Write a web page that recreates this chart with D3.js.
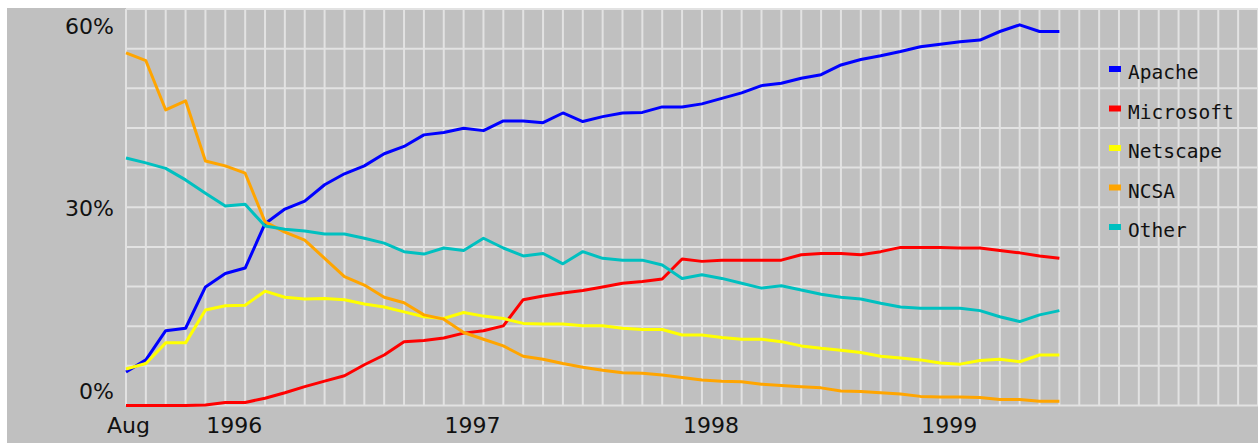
<!DOCTYPE html>
<html><head><meta charset="utf-8">
<script src="https://cdn.jsdelivr.net/npm/d3@7"></script>
<style>html,body{margin:0;padding:0;background:#fff;overflow:hidden}</style>
</head><body><svg id="c" width="1258" height="443"></svg>
<script>
const months = ["1995-08","1995-09","1995-10","1995-11","1995-12",
"1996-01","1996-02","1996-03","1996-04","1996-05","1996-06","1996-07","1996-08","1996-09","1996-10","1996-11","1996-12",
"1997-01","1997-02","1997-03","1997-04","1997-05","1997-06","1997-07","1997-08","1997-09","1997-10","1997-11","1997-12",
"1998-01","1998-02","1998-03","1998-04","1998-05","1998-06","1998-07","1998-08","1998-09","1998-10","1998-11","1998-12",
"1999-01","1999-02","1999-03","1999-04","1999-05","1999-06","1999-07"];
const apache    = [5.5,7.5,12.3,12.7,19.5,21.7,22.6,29.9,32.3,33.6,36.3,38.1,39.4,41.4,42.6,44.5,44.9,45.6,45.2,46.8,46.8,46.5,48.1,46.7,47.5,48.1,48.2,49.1,49.1,49.6,50.5,51.4,52.6,53.0,53.8,54.4,56.0,56.9,57.5,58.2,59.0,59.4,59.8,60.1,61.5,62.6,61.5,61.5];
const microsoft = [0,0,0,0,0.1,0.5,0.5,1.2,2.1,3.1,4.0,4.9,6.7,8.3,10.5,10.7,11.1,11.9,12.3,13.1,17.4,18.0,18.5,18.9,19.5,20.1,20.4,20.8,24.1,23.7,23.9,23.9,23.9,23.9,24.8,25.0,25.0,24.8,25.3,26.0,26.0,26.0,25.9,25.9,25.5,25.1,24.6,24.2];
const netscape  = [6.0,6.9,10.3,10.3,15.7,16.4,16.5,18.8,17.8,17.5,17.6,17.4,16.7,16.2,15.4,14.6,14.3,15.3,14.7,14.3,13.5,13.4,13.4,13.1,13.1,12.7,12.5,12.5,11.6,11.6,11.2,10.9,10.9,10.5,9.8,9.4,9.1,8.7,8.1,7.8,7.5,7.0,6.8,7.4,7.6,7.2,8.3,8.3];
const ncsa      = [58.0,56.7,48.6,50.1,40.2,39.4,38.2,30.2,28.5,27.2,24.2,21.2,19.8,17.8,16.9,14.9,14.2,12.0,10.9,9.8,8.1,7.6,6.9,6.3,5.8,5.4,5.3,5.0,4.6,4.2,4.0,3.9,3.5,3.3,3.1,2.9,2.4,2.3,2.1,1.9,1.5,1.4,1.4,1.3,1.0,1.0,0.7,0.7];
const other     = [40.7,39.9,39.0,37.1,34.9,32.8,33.1,29.5,29.0,28.7,28.2,28.2,27.5,26.7,25.3,24.9,25.9,25.5,27.5,25.9,24.6,25.0,23.3,25.3,24.2,23.9,23.9,23.1,20.9,21.5,20.9,20.1,19.3,19.7,19.0,18.3,17.8,17.5,16.8,16.2,16.0,16.0,16.0,15.6,14.6,13.8,14.9,15.6];
const seriesNames  = ["Apache","Microsoft","Netscape","NCSA","Other"];
const seriesValues = [apache, microsoft, netscape, ncsa, other];
const seriesColors = ["#0000ff","#ff0000","#ffff00","#ffa500","#00c0c0"];
const yTicks = [0,30,60];
const yTickLabels = ["0%","30%","60%"];
const xTickMonths = ["1995-08","1996-01","1997-01","1998-01","1999-01"];
const xTickLabels = ["Aug","1996","1997","1998","1999"];

const gridColumns = 57, gridRows = 10, yMax = 65.2;
const svg = d3.select("#c");
svg.append("rect").attr("x",7).attr("y",8).attr("width",1251).attr("height",435).attr("fill","#c0c0c0");

const x = d3.scaleLinear().domain([0, gridColumns]).range([126, 1258]);
const y = d3.scaleLinear().domain([0, yMax]).range([405.5, 9]);

const grid = svg.append("g").attr("stroke","#e2e2e2").attr("stroke-width",2);
grid.selectAll("line.v").data(d3.range(gridColumns + 1)).join("line")
  .attr("x1", d => x(d)).attr("x2", d => x(d)).attr("y1", y(yMax)).attr("y2", y(0));
grid.selectAll("line.h").data(d3.range(gridRows + 1)).join("line")
  .attr("x1", x(0)).attr("x2", x(gridColumns))
  .attr("y1", d => y(yMax * d / gridRows)).attr("y2", d => y(yMax * d / gridRows));

// y labels
svg.append("g").selectAll("text").data(yTicks).join("text")
  .attr("x", 114).attr("y", d => y(d) - 7)
  .attr("text-anchor","end").attr("font-family","DejaVu Sans").attr("font-size",22).attr("fill","#111")
  .text((d,i) => yTickLabels[i]);

// x labels
svg.append("g").selectAll("text").data(xTickMonths).join("text")
  .attr("x", d => x(months.indexOf(d)) - 19).attr("y", 433)
  .attr("font-family","DejaVu Sans").attr("font-size",22).attr("fill","#111")
  .text((d,i) => xTickLabels[i]);

// lines
const line = d3.line().x((d,i) => x(i)).y(d => y(d));
svg.append("g").selectAll("path").data(seriesValues).join("path")
  .attr("d", line).attr("fill","none")
  .attr("stroke", (d,i) => seriesColors[i]).attr("stroke-width",3)
  .attr("stroke-linejoin","round");

// legend
const lg = svg.append("g");
seriesNames.forEach((n,i) => {
  lg.append("rect").attr("x",1109).attr("y",66 + 39.5*i).attr("width",12).attr("height",6).attr("fill",seriesColors[i]);
  lg.append("text").attr("x",1128).attr("y",79.3 + 39.5*i)
    .attr("font-family","DejaVu Sans Mono").attr("font-size",19.5).attr("fill","#111").text(n);
});
</script></body></html>
